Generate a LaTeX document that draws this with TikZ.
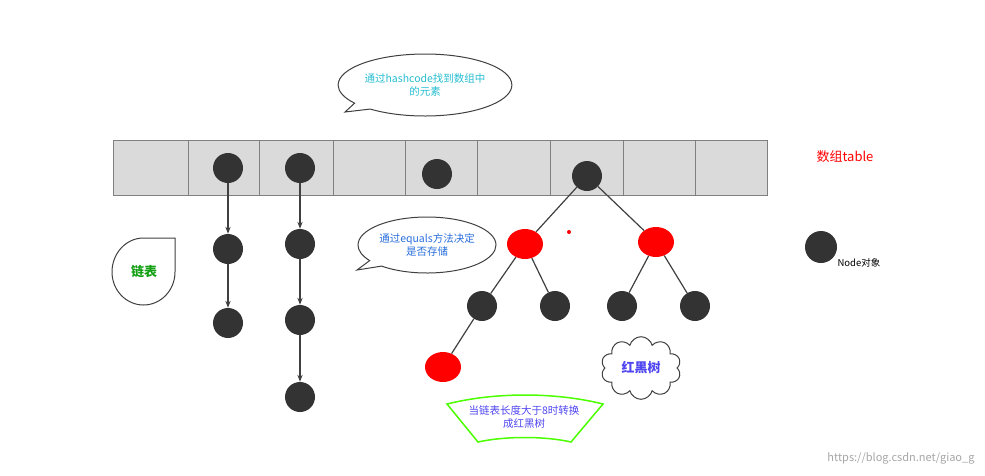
\documentclass[tikz,border=0pt]{standalone}
\usepackage{fontspec}
\setmainfont{Noto Sans CJK SC}
\usetikzlibrary{shapes.callouts,shapes.symbols,shapes.geometric,arrows.meta}
\definecolor{cyanT}{RGB}{40,190,210}
\definecolor{blueT}{RGB}{40,110,220}
\definecolor{purpT}{RGB}{80,70,240}
\definecolor{greenT}{RGB}{20,160,20}
\definecolor{cellC}{RGB}{218,218,218}
\tikzset{
 bn/.style={circle,fill=black!80,minimum size=30pt,inner sep=0pt},
 rn/.style={ellipse,fill=red,minimum width=36pt,minimum height=30pt,inner sep=0pt},
 arr/.style={draw=black!75,line width=1.2pt,-{Stealth[length=7pt]}},
 tl/.style={draw=black!75,line width=1.2pt},
 cal/.style={ellipse callout,draw=black!75,line width=1pt,align=center,font=\fontsize{10.5}{13}\selectfont,inner sep=1pt}
}
\begin{document}
\begin{tikzpicture}[x=1pt,y=-1pt]
\useasboundingbox (0,0) rectangle (985,475);
\fill[white] (0,0) rectangle (985,475);
\draw[fill=cellC,draw=black!50,line width=0.8pt] (113,140) rectangle (767,195);
\foreach \x in {188,259,333,405,477,550,623,695} \draw[black!50,line width=0.8pt] (\x,140) -- (\x,195);
\node[bn] (a1) at (228,168) {};
\node[bn] (b1) at (300,168) {};
\node[bn] (c1) at (437,174) {};
\node[bn] (d1) at (587,176) {};
\node[bn] (a2) at (228,249) {};
\node[bn] (a3) at (228,323) {};
\node[bn] (b2) at (300,244) {};
\node[bn] (b3) at (300,320) {};
\node[bn] (b4) at (300,397) {};
\draw[arr] (a1) -- (a2); \draw[arr] (a2) -- (a3);
\draw[arr] (b1) -- (b2); \draw[arr] (b2) -- (b3); \draw[arr] (b3) -- (b4);
\node[rn] (r1) at (525,244) {};
\node[rn] (r2) at (656,242) {};
\node[bn] (t1) at (482,306) {};
\node[bn] (t2) at (555,306) {};
\node[bn] (t3) at (622,306) {};
\node[bn] (t4) at (695,306) {};
\node[rn] (r3) at (443,367) {};
\draw[tl] (d1) -- (r1); \draw[tl] (d1) -- (r2);
\draw[tl] (r1) -- (t1); \draw[tl] (r1) -- (t2);
\draw[tl] (r2) -- (t3); \draw[tl] (r2) -- (t4);
\draw[tl] (t1) -- (r3);
\fill[red] (569,232) circle (2);
\node[bn,minimum size=32pt] (leg) at (821,247) {};
\node[anchor=west,font=\fontsize{9.5}{11}\selectfont] (legt) at (834,263) {Node对象};
\node[text=red,font=\fontsize{13}{15}\selectfont] (tab) at (845,157) {数组table};
\node[cal,text=cyanT,minimum width=170pt,minimum height=62pt,callout absolute pointer={(345,112)}] (c1t) at (425,85) {通过hashcode找到数组中\\的元素};
\node[cal,text=blueT,minimum width=138pt,minimum height=56pt,callout absolute pointer={(357,270)}] (c2t) at (427,245) {通过equals方法决定\\是否存储};
\draw[black!75,line width=1pt] (175,238) -- (175,272) arc (0:180:31.5 and 33) arc (180:270:31.5 and 34) -- cycle;
\node[text=greenT,font=\bfseries\fontsize{13}{15}\selectfont] (lb) at (144,272) {链表};
\node[cloud,draw=black!75,line width=1pt,cloud puffs=10,aspect=1.3,minimum width=80pt,minimum height=62pt,text=purpT,font=\bfseries\fontsize{13}{15}\selectfont] (cl) at (641,368) {红黑树};
\draw[green!70!yellow,line width=1.5pt] (447,404) .. controls (495,392) and (555,392) .. (603,404) -- (571,442) .. controls (545,436) and (505,436) .. (478,442) -- cycle;
\node[text=purpT,align=center,font=\fontsize{10.5}{13}\selectfont] (gt) at (524,417) {当链表长度大于8时转换\\成红黑树};
\node[text=black!35,anchor=east,font=\fontsize{11}{13}\selectfont] (wm) at (978,458) {https://blog.csdn.net/giao\_g};
\end{tikzpicture}
\end{document}
